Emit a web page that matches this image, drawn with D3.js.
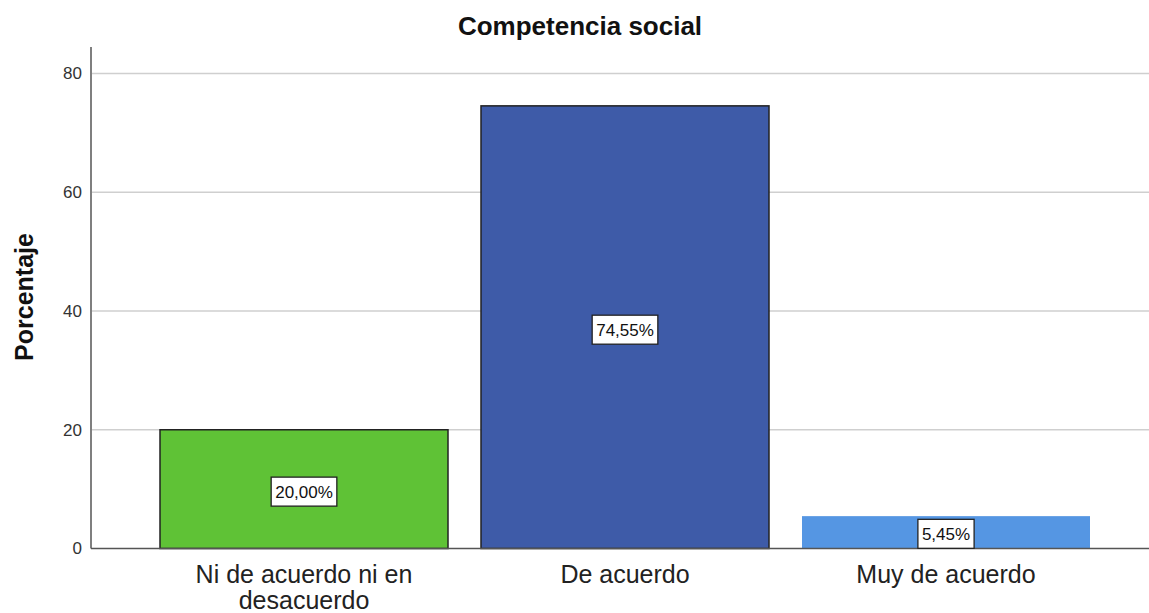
<!DOCTYPE html>
<html><head><meta charset="utf-8">
<script src="https://cdn.jsdelivr.net/npm/d3@7"></script>
<style>body{margin:0;background:#fff;} svg{display:block;font-family:"Liberation Sans",Arial,sans-serif;}</style>
</head><body>
<svg id="chart" width="1149" height="613"></svg>
<script>
const categories = [["Ni de acuerdo ni en","desacuerdo"],["De acuerdo"],["Muy de acuerdo"]];
const values = [20.00, 74.55, 5.45];
const valueLabels = ["20,00%","74,55%","5,45%"];
const barColors = ["#5fc236","#3e5ba8","#5596e3"];
const barStrokes = ["#222","#222","none"];
const yTicks = [0,20,40,60,80];

const svg = d3.select("#chart");
const x = d3.scaleBand().domain(d3.range(values.length)).range([160,1090]).paddingInner(33/321).paddingOuter(0);
const y = d3.scaleLinear().domain([0,80]).range([548.5,73.5]);

// gridlines
svg.append("g").selectAll("line").data(yTicks.filter(d=>d>0)).join("line")
  .attr("x1",92).attr("x2",1149).attr("y1",d=>y(d)).attr("y2",d=>y(d))
  .attr("stroke","#cfcfcf").attr("stroke-width",1.5);

// y axis
const yAxis = svg.append("g").attr("transform","translate(91,0)")
  .call(d3.axisLeft(y).tickValues(yTicks).tickSize(0).tickPadding(9));
yAxis.select(".domain").remove();
yAxis.selectAll("text").attr("font-size",17).attr("fill","#333").attr("font-family","Liberation Sans, Arial, sans-serif");

// bars
svg.append("g").selectAll("rect").data(values).join("rect")
  .attr("x",(d,i)=>x(i)).attr("width",x.bandwidth())
  .attr("y",d=>y(d)).attr("height",d=>y(0)-y(d))
  .attr("fill",(d,i)=>barColors[i]).attr("stroke",(d,i)=>barStrokes[i]).attr("stroke-width",1.5);

// axes lines
svg.append("line").attr("x1",91).attr("x2",91).attr("y1",47).attr("y2",548.5).attr("stroke","#555").attr("stroke-width",1.5);
svg.append("line").attr("x1",91).attr("x2",1149).attr("y1",548.5).attr("y2",548.5).attr("stroke","#555").attr("stroke-width",1.5);

// value labels
const lg = svg.append("g").selectAll("g").data(values).join("g")
  .attr("transform",(d,i)=>`translate(${x(i)+x.bandwidth()/2},${(y(0)+y(d))/2 + (i===2?1.5:2.5)})`);
lg.each(function(d,i){
  const g = d3.select(this);
  const t = g.append("text").text(valueLabels[i]).attr("text-anchor","middle").attr("dy","0.35em")
    .attr("font-size",17).attr("fill","#111");
  const bb = t.node().getBBox();
  g.insert("rect","text").attr("x",bb.x-4).attr("y",-14.5).attr("width",bb.width+8).attr("height",29)
    .attr("fill","#fff").attr("stroke","#222").attr("stroke-width",1.3);
});

// x category labels
svg.append("g").selectAll("text").data(categories).join("text")
  .attr("x",(d,i)=>x(i)+x.bandwidth()/2).attr("y",583)
  .attr("text-anchor","middle").attr("font-size",25).attr("fill","#222")
  .each(function(d){
    const xx = d3.select(this).attr("x");
    d3.select(this).selectAll("tspan").data(d).join("tspan")
      .attr("x",xx).attr("dy",(s,j)=>j===0?0:26).text(s=>s);
  });

// title
svg.append("text").attr("x",580).attr("y",35).attr("text-anchor","middle")
  .attr("font-size",26).attr("font-weight","bold").attr("fill","#111").text("Competencia social");

// y label
svg.append("text").attr("transform","translate(33,297) rotate(-90)").attr("text-anchor","middle")
  .attr("font-size",25).attr("font-weight","bold").attr("fill","#111").text("Porcentaje");
</script>
</body></html>
